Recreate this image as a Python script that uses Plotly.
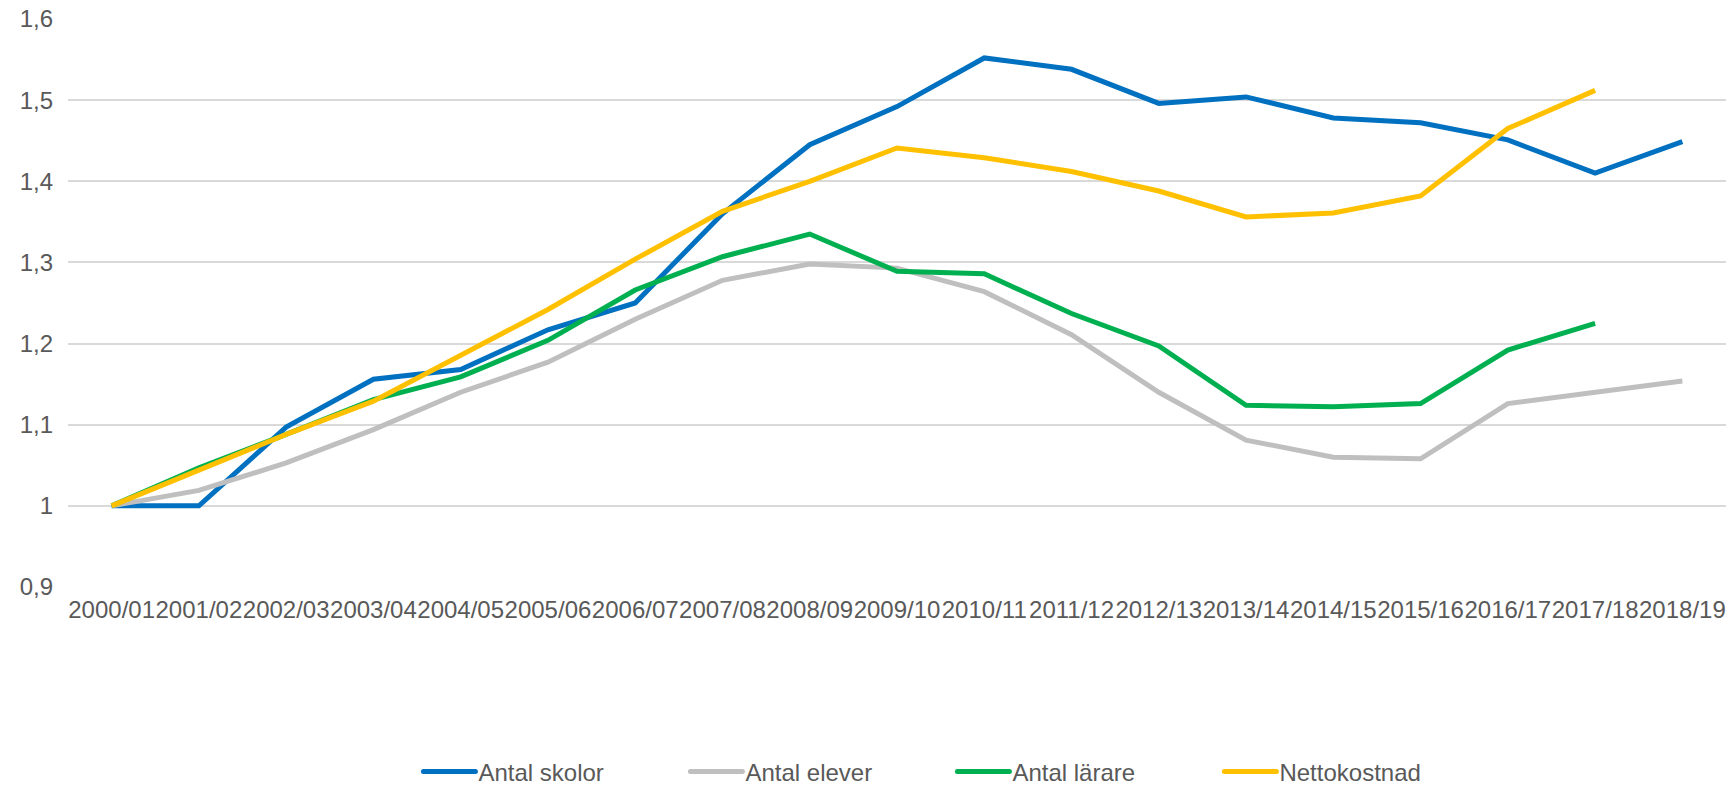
import plotly.graph_objects as go

categories = ["2000/01", "2001/02", "2002/03", "2003/04", "2004/05", "2005/06", "2006/07",
              "2007/08", "2008/09", "2009/10", "2010/11", "2011/12", "2012/13", "2013/14",
              "2014/15", "2015/16", "2016/17", "2017/18", "2018/19"]

antal_skolor = [1.000, 1.000, 1.097, 1.156, 1.168, 1.217, 1.250, 1.360, 1.445, 1.492,
                1.552, 1.538, 1.496, 1.504, 1.478, 1.472, 1.451, 1.410, 1.449]
antal_elever = [1.000, 1.019, 1.053, 1.094, 1.140, 1.177, 1.230, 1.278, 1.298, 1.293,
                1.264, 1.211, 1.140, 1.081, 1.060, 1.058, 1.126, 1.140, 1.154]
antal_larare = [1.000, 1.047, 1.088, 1.131, 1.159, 1.204, 1.266, 1.307, 1.335, 1.289,
                1.286, 1.237, 1.197, 1.124, 1.122, 1.126, 1.192, 1.225, None]
nettokostnad = [1.000, 1.044, 1.088, 1.129, 1.185, 1.242, 1.304, 1.363, 1.400, 1.441,
                1.429, 1.412, 1.388, 1.356, 1.361, 1.382, 1.465, 1.512, None]

series_names = ["Antal skolor", "Antal elever", "Antal lärare", "Nettokostnad"]
series_colors = ["#0070C0", "#BFBFBF", "#00B050", "#FFC000"]

y_tickvals = [0.9, 1.0, 1.1, 1.2, 1.3, 1.4, 1.5, 1.6]
y_ticktext = ["0,9", "1", "1,1", "1,2", "1,3", "1,4", "1,5", "1,6"]

fig = go.Figure()
for name, vals, col in zip(series_names,
                           [antal_skolor, antal_elever, antal_larare, nettokostnad],
                           series_colors):
    fig.add_trace(go.Scatter(
        x=categories, y=vals, mode="lines", name=name,
        line=dict(color=col, width=5, shape="linear"),
        connectgaps=False,
    ))

fig.update_layout(
    width=1729, height=786,
    margin=dict(l=68, r=3, t=19, b=199, autoexpand=False),
    paper_bgcolor="white", plot_bgcolor="white",
    font=dict(family="Liberation Sans, Arial, sans-serif", size=24, color="#595959"),
    showlegend=True,
    legend=dict(
        orientation="h",
        xref="container", yref="container",
        x=0.242, xanchor="left",
        y=0.018, yanchor="middle",
        font=dict(size=24, color="#595959"),
        itemwidth=50,
        entrywidth=202, entrywidthmode="pixels",
        traceorder="normal",
        bgcolor="rgba(0,0,0,0)",
    ),
)

fig.update_xaxes(
    type="category",
    range=[-0.5, 18.5],
    showgrid=False, zeroline=False, showline=False,
    ticks="", tickangle=0,
    tickfont=dict(size=24, color="#595959"),
    ticklabelstandoff=6,
)
fig.update_yaxes(
    range=[0.9, 1.6],
    tickvals=y_tickvals, ticktext=y_ticktext,
    showgrid=True, gridcolor="#D9D9D9", gridwidth=1.5,
    zeroline=False, showline=False, ticks="",
    tickfont=dict(size=24, color="#595959"),
    ticklabelstandoff=14,
)

post = (
    "document.body.style.margin='0';document.body.style.overflow='hidden';"
    "document.querySelectorAll('.legendlines path').forEach(function(p){"
    "p.setAttribute('d','M5,0h52');p.style.strokeLinecap='round';});"
)

fig.write_html(
    "out.html",
    config={"displayModeBar": False},
    post_script=post,
)
